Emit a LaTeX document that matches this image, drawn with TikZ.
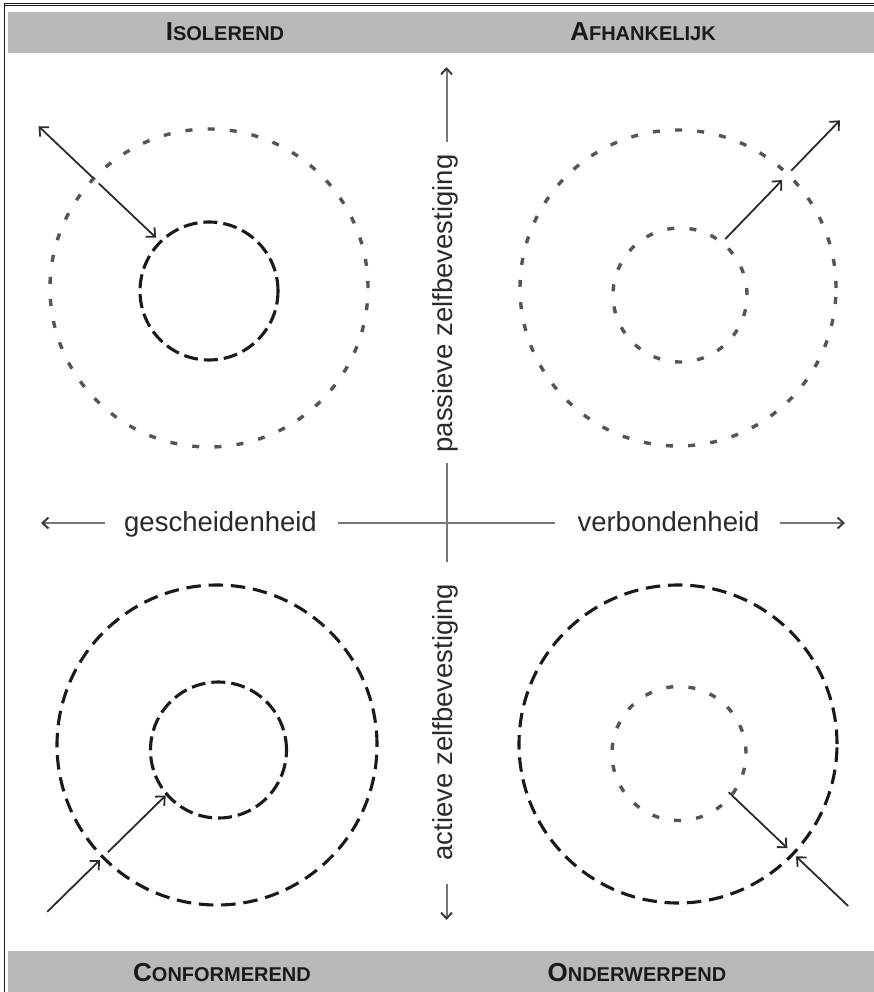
\documentclass[tikz,border=0pt]{standalone}
\usepackage{fontspec}
\setmainfont{Liberation Sans}
\usetikzlibrary{arrows.meta}
\definecolor{bandgray}{HTML}{B9B9B9}
\definecolor{dotgray}{HTML}{555555}
\definecolor{inkdark}{HTML}{1A1A1A}
\definecolor{axisgray}{HTML}{777777}
\definecolor{labelgray}{HTML}{2A2A2A}
\newcommand{\hdrtxt}[2]{{\fontsize{26}{26}\selectfont #1}{\fontsize{20}{20}\selectfont #2}}
\begin{document}
\begin{tikzpicture}[x=1pt,y=-1pt,
  band/.style={fill=bandgray, draw=none, inner sep=0pt, outer sep=0pt, minimum width=866pt, minimum height=41pt, anchor=north west},
  hdr/.style={font=\bfseries, text=inkdark, inner sep=0pt, anchor=base},
  axlbl/.style={font=\fontsize{27.5}{30}\selectfont, text=labelgray, inner sep=0pt, anchor=base},
  ring/.style={circle, inner sep=0pt, outer sep=0pt, minimum size=#1},
  gdot/.style={ring=#1, draw=dotgray, line width=3.4pt, dash pattern=on 7pt off 15.2pt},
  bdash/.style={ring=#1, draw=inkdark, line width=3.1pt, dash pattern=on 14pt off 6pt},
  bdashwide/.style={ring=#1, draw=inkdark, line width=3.1pt, dash pattern=on 14.5pt off 7.8pt},
  carrow/.style={draw=inkdark!92, line width=1.8pt, -{Straight Barb[length=7pt,width=13pt]}},
  axline/.style={draw=axisgray, line width=2pt},
  axarrow/.style={axline, -{Straight Barb[length=6pt,width=11pt,color=inkdark!85]}}
]
\useasboundingbox (0,0) rectangle (874,992);
\fill[white] (0,0) rectangle (874,992);

% frame
\draw[inkdark, line width=1.1pt] (4.5,3.2) -- (874,3.2);
\draw[inkdark, line width=1.1pt] (4.5,5.8) -- (874,5.8);
\draw[inkdark, line width=1.6pt] (4.5,3.2) -- (4.5,992);

% bands
\node[band] (topband) at (8,12) {};
\node[band] (botband) at (8,951) {};
\node[hdr] (hIso) at (225,41) {\hdrtxt{I}{SOLEREND}};
\node[hdr] (hAfh) at (643,41) {\hdrtxt{A}{FHANKELIJK}};
\node[hdr] (hCon) at (222,981) {\hdrtxt{C}{ONFORMEREND}};
\node[hdr] (hOnd) at (637,981) {\hdrtxt{O}{NDERWERPEND}};

% axis labels
\node[axlbl] (gl) at (220.5,531) {gescheidenheid};
\node[axlbl] (vl) at (668.5,531) {verbondenheid};
\node[axlbl, rotate=90] (pl) at (452,303.5) {passieve zelfbevestiging};
\node[axlbl, rotate=90] (al) at (452,722) {actieve zelfbevestiging};

% axes
\coordinate (hL) at (41,523);
\coordinate (hLe) at (105,523);
\coordinate (hMs) at (338,523);
\coordinate (hMe) at (555,523);
\coordinate (hRs) at (780,523);
\coordinate (hR) at (845,523);
\coordinate (vT) at (446.5,67);
\coordinate (vTs) at (446.5,142);
\coordinate (vMs) at (446.5,463);
\coordinate (vMe) at (446.5,562);
\coordinate (vBs) at (446.5,884);
\coordinate (vB) at (446.5,920);
\draw[axarrow] (hLe) -- (hL);
\draw[axline] (hMs) -- (hMe);
\draw[axarrow] (hRs) -- (hR);
\draw[axarrow] (vTs) -- (vT);
\draw[axline] (vMs) -- (vMe);
\draw[axarrow] (vBs) -- (vB);

% circles
\node[gdot=318pt] (tlo) at (209,288) {};
\node[bdash=138pt] (tli) at (209,291) {};
\node[gdot=316pt] (tro) at (678,288) {};
\node[gdot=134pt] (tri) at (680,295) {};
\node[bdashwide=320pt] (blo) at (217,745) {};
\node[bdash=136pt] (bli) at (218.5,750) {};
\node[bdashwide=318pt] (bro) at (678,744) {};
\node[gdot=134pt] (bri) at (679,753.5) {};

% arrow end points
\coordinate (tlA) at ([shift={(-136.5:160)}]tlo.center);
\coordinate (tlB) at ([shift={(-136.5:235)}]tlo.center);
\coordinate (tlC) at ([shift={(-136.5:152)}]tlo.center);
\coordinate (tlD) at ([shift={(-136.5:73)}]tlo.center);
\coordinate (trA) at ([shift={(-46:68)}]tro.center);
\coordinate (trB) at ([shift={(-46:150)}]tro.center);
\coordinate (trC) at ([shift={(-46:163)}]tro.center);
\coordinate (trD) at ([shift={(-46:233)}]tro.center);
\coordinate (blA) at ([shift={(135.5:238)}]blo.center);
\coordinate (blB) at ([shift={(135.5:164)}]blo.center);
\coordinate (blC) at ([shift={(135.5:153)}]blo.center);
\coordinate (blD) at ([shift={(135.5:72)}]blo.center);
\coordinate (brA) at ([shift={(43.6:70)}]bro.center);
\coordinate (brB) at ([shift={(43.6:151)}]bro.center);
\coordinate (brC) at ([shift={(43.6:235)}]bro.center);
\coordinate (brD) at ([shift={(43.6:163)}]bro.center);

\draw[carrow] (tlA) -- (tlB);
\draw[carrow] (tlC) -- (tlD);
\draw[carrow] (trA) -- (trB);
\draw[carrow] (trC) -- (trD);
\draw[carrow] (blA) -- (blB);
\draw[carrow] (blC) -- (blD);
\draw[carrow] (brA) -- (brB);
\draw[carrow] (brC) -- (brD);
\end{tikzpicture}
\end{document}
